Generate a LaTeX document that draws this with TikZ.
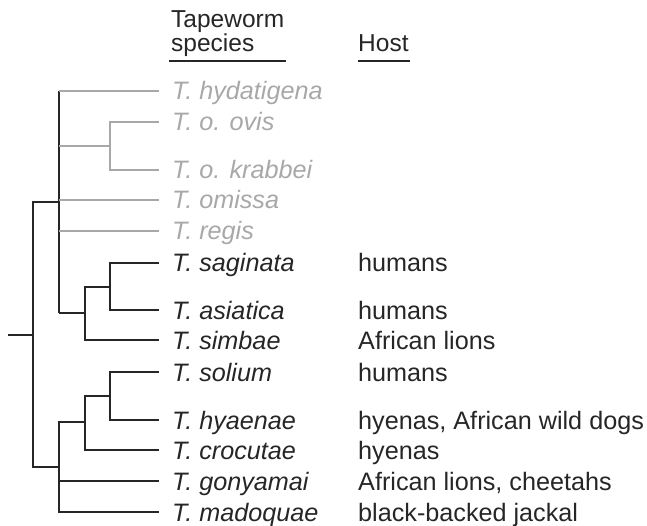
\documentclass[tikz,border=0pt]{standalone}
\usepackage{fontspec}
\setmainfont{Liberation Sans}
\definecolor{lightgr}{HTML}{A8A8A8}
\definecolor{darkln}{HTML}{262626}
\begin{document}
\begin{tikzpicture}[x=1pt,y=-1pt,
  every node/.style={font=\fontsize{25.2}{30}\selectfont, text height=18pt, text depth=0pt, inner ysep=0pt},
  leaf/.style={anchor=west, inner xsep=13pt, text=darkln, font=\fontsize{25.2}{30}\selectfont\itshape},
  gleaf/.style={leaf, text=lightgr},
  host/.style={anchor=west, inner xsep=0pt, text=darkln},
  head/.style={anchor=base west, inner xsep=0pt, text=darkln, font=\fontsize{24.5}{29}\selectfont},
  br/.style={line width=2pt, draw=darkln},
  gbr/.style={line width=2pt, draw=lightgr},
  ul/.style={line width=2pt, draw=darkln},
]
\useasboundingbox (0,0) rectangle (647,526);

% headers
\node[head] (tw) at (171,28) {Tapeworm};
\node[head] (sp) at (171,52) {species};
\node[head] (ho) at (358,52) {Host};
\coordinate (ul1a) at (169,61); \coordinate (ul1b) at (286,61);
\coordinate (ul2a) at (358,61); \coordinate (ul2b) at (410,61);
\draw[ul] (ul1a) -- (ul1b);
\draw[ul] (ul2a) -- (ul2b);

% leaves
\node[gleaf] (hyd) at (159,91)  {T. hydatigena};
\node[gleaf] (ovi) at (159,122) {T. o. ovis};
\node[gleaf] (kra) at (159,170) {T. o. krabbei};
\node[gleaf] (omi) at (159,200) {T. omissa};
\node[gleaf] (reg) at (159,231) {T. regis};
\node[leaf]  (sag) at (159,263) {T. saginata};
\node[leaf]  (asi) at (159,310) {T. asiatica};
\node[leaf]  (sim) at (159,340) {T. simbae};
\node[leaf]  (sol) at (159,372) {T. solium};
\node[leaf]  (hya) at (159,420) {T. hyaenae};
\node[leaf]  (cro) at (159,450) {T. crocutae};
\node[leaf]  (gon) at (159,481) {T. gonyamai};
\node[leaf]  (mad) at (159,512) {T. madoquae};

% hosts
\node[host] (hsag) at (358,263) {humans};
\node[host] (hasi) at (358,310) {humans};
\node[host] (hsim) at (358,340) {African lions};
\node[host] (hsol) at (358,372) {humans};
\node[host] (hhya) at (358,420) {hyenas, African wild dogs};
\node[host] (hcro) at (358,450) {hyenas};
\node[host] (hgon) at (358,481) {African lions, cheetahs};
\node[host] (hmad) at (358,512) {black-backed jackal};

% internal nodes
\coordinate (r0) at (8,335);
\coordinate (R)  at (33,335);
\coordinate (A)  at (59,202);
\coordinate (OK) at (110,146);
\coordinate (S)  at (85,313);
\coordinate (SA) at (110,287);
\coordinate (B)  at (59,467);
\coordinate (C)  at (85,422);
\coordinate (SH) at (110,396);

% root
\draw[br] (r0) -- (R);
\draw[br] (R) |- (A);
\draw[br] (R) |- (B);

% upper clade
\draw[br] (A |- hyd.west) -- (A |- S);
\draw[gbr] (A |- hyd.west) -- (hyd.west);
\draw[gbr] (A |- OK) -- (OK);
\draw[gbr] (A |- omi.west) -- (omi.west);
\draw[gbr] (A |- reg.west) -- (reg.west);
\draw[gbr] (OK) |- (ovi.west);
\draw[gbr] (OK) |- (kra.west);
\draw[br] (A |- S) -- (S);
\draw[br] (S) |- (SA);
\draw[br] (S) |- (sim.west);
\draw[br] (SA) |- (sag.west);
\draw[br] (SA) |- (asi.west);

% lower clade
\draw[br] (B) |- (C);
\draw[br] (B) |- (gon.west);
\draw[br] (B) |- (mad.west);
\draw[br] (C) |- (SH);
\draw[br] (C) |- (cro.west);
\draw[br] (SH) |- (sol.west);
\draw[br] (SH) |- (hya.west);
\end{tikzpicture}
\end{document}
